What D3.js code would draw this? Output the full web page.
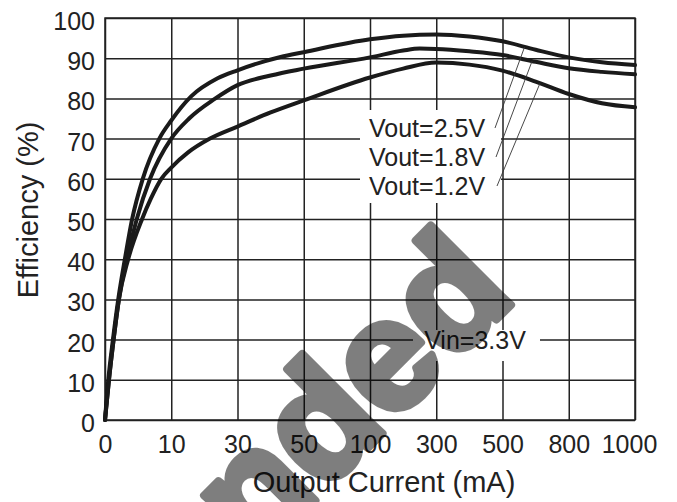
<!DOCTYPE html>
<html>
<head>
<meta charset="utf-8">
<script src="https://cdn.jsdelivr.net/npm/d3@7"></script>
<style>
  body { margin: 0; background: #fff; }
  svg { display: block; font-family: "Liberation Sans", Arial, sans-serif; }
</style>
</head>
<body>
<div class="chart"></div>
<script>
// tick values (x axis is not linear, every tick is one equal step)
var currentTicks = [0, 10, 30, 50, 100, 300, 500, 800, 1000];
var effTicks = [0, 10, 20, 30, 40, 50, 60, 70, 80, 90, 100];

// [mA, %]
var vout25 = [[0,0],[0.5,10],[1.2,20],[2,30],[3,40],[4.1,50],[5.7,60],[8.2,70],[10,74.5],
  [16,80.5],[24,85],[30,87],[43,90.3],[50,91.5],[100,94.7],[200,95.6],[300,95.9],[400,95.4],
  [500,94.2],[650,92.1],[800,90.2],[900,89],[1000,88.3]];
var vout18 = [[0,0],[0.6,10],[1.3,20],[2.1,30],[3.3,40],[4.8,50],[6.8,60],[10,70],
  [15.4,75],[23,79.8],[30,83.3],[40,85.7],[50,87.4],[100,90.2],[200,91.9],[250,92.4],[300,92.3],
  [400,91.7],[500,90.8],[650,89.1],[800,87.5],[900,86.6],[1000,86]];
var vout12 = [[0,0],[0.6,10],[1.3,20],[2.1,30],[3.5,40],[5.6,50],[6.9,55],[8.5,60],[10,62.8],
  [15,66.5],[21.7,70],[30,73],[40,76.5],[50,79.5],[100,85.2],[200,87.4],[300,88.9],[400,88.4],
  [500,86.9],[650,84.2],[800,81.1],[900,78.8],[1000,77.8]];

var seriesNames = ["Vout=2.5V", "Vout=1.8V", "Vout=1.2V"];
var leaderAt = [600, 634, 670];   // mA where the label leader meets its curve

drawChart();

function valueAt(series, mA) {
    var i = d3.bisector(function(d) { return d[0]; }).left(series, mA);
    if (i <= 0) return series[0][1];
    var a = series[i - 1], b = series[i];
    return a[1] + (b[1] - a[1]) * (mA - a[0]) / (b[0] - a[0]);
}

function drawChart() {
    var width = 677, height = 502;
    var left = 105, right = 635, top = 18, bottom = 420;

    var svg = d3.select(".chart")
        .append("svg")
        .attr("width", width)
        .attr("height", height);

    svg.append("rect").attr("width", width).attr("height", height).attr("fill", "#fff");

    var step = (right - left) / (currentTicks.length - 1);
    var x = d3.scaleLinear()
        .domain(currentTicks)
        .range(currentTicks.map(function(d, i) { return left + i * step; }));
    var y = d3.scaleLinear().domain([0, 100]).range([bottom, top]);

    // grid + tick labels
    var xAxis = svg.append("g")
        .attr("transform", "translate(0," + bottom + ")")
        .call(d3.axisBottom(x).tickValues(currentTicks).tickSize(-(bottom - top)).tickPadding(15).tickFormat(d3.format("d")));
    var yAxis = svg.append("g")
        .attr("transform", "translate(" + left + ",0)")
        .call(d3.axisLeft(y).tickValues(effTicks).tickSize(-(right - left)).tickPadding(10));

    [xAxis, yAxis].forEach(function(g) {
        g.select(".domain").remove();
        g.selectAll(".tick line").attr("stroke", "#222").attr("stroke-width", 1.5);
        g.selectAll(".tick text")
            .attr("fill", "#222")
            .attr("font-size", 25)
            .attr("font-family", "Liberation Sans, Arial, sans-serif");
    });
    yAxis.selectAll(".tick text").attr("dy", "0.46em");
    xAxis.selectAll(".tick text").filter(function(d) { return d == 1000; }).attr("dx", -6);

    svg.append("rect")
        .attr("x", left).attr("y", top)
        .attr("width", right - left).attr("height", bottom - top)
        .attr("fill", "none").attr("stroke", "#222").attr("stroke-width", 1.5);

    // white patches behind the notes
    svg.append("rect").attr("x", 360).attr("y", 110).attr("width", 141).attr("height", 93).attr("fill", "#fff");
    svg.append("rect").attr("x", 413).attr("y", 330).attr("width", 127).attr("height", 31).attr("fill", "#fff");

    var line = d3.line()
        .x(function(d) { return x(d[0]); })
        .y(function(d) { return y(d[1]); })
        .curve(d3.curveMonotoneX);

    var allSeries = [vout25, vout18, vout12];
    svg.selectAll(".curve")
        .data(allSeries)
        .enter()
        .append("path")
        .attr("class", "curve")
        .attr("d", line)
        .attr("fill", "none")
        .attr("stroke", "#1a1a1a")
        .attr("stroke-width", 4)
        .attr("stroke-linecap", "round");

    // labels with thin leader lines
    for (let i = 0; i < seriesNames.length; i++) {
        var base = 137 + 29 * i;
        svg.append("text")
            .attr("x", 369)
            .attr("y", base)
            .attr("font-size", 25)
            .attr("fill", "#222")
            .text(seriesNames[i]);

        var mA = leaderAt[i];
        svg.append("line")
            .attr("x1", 495 + i)
            .attr("y1", base - 9)
            .attr("x2", x(mA))
            .attr("y2", y(valueAt(allSeries[i], mA)))
            .attr("stroke", "#333")
            .attr("stroke-width", 0.9);
    }

    svg.append("text")
        .attr("x", 475)
        .attr("y", 349)
        .attr("text-anchor", "middle")
        .attr("font-size", 25)
        .attr("fill", "#222")
        .text("Vin=3.3V");

    // axis titles
    svg.append("text")
        .attr("x", 384)
        .attr("y", 492)
        .attr("text-anchor", "middle")
        .attr("font-size", 29)
        .attr("fill", "#222")
        .text("Output Current (mA)");

    svg.append("text")
        .attr("transform", "translate(38,210) rotate(-90)")
        .attr("text-anchor", "middle")
        .attr("font-size", 29)
        .attr("fill", "#222")
        .text("Efficiency (%)");

    // watermark
    svg.append("text")
        .attr("transform", "translate(255,561) rotate(-45)")
        .attr("font-size", 156)
        .attr("font-weight", "bold")
        .attr("fill", "#000")
        .attr("stroke", "#000")
        .attr("stroke-width", 8)
        .attr("stroke-linejoin", "round")
        .attr("opacity", 0.5)
        .text("nded");
}
</script>
</body>
</html>
